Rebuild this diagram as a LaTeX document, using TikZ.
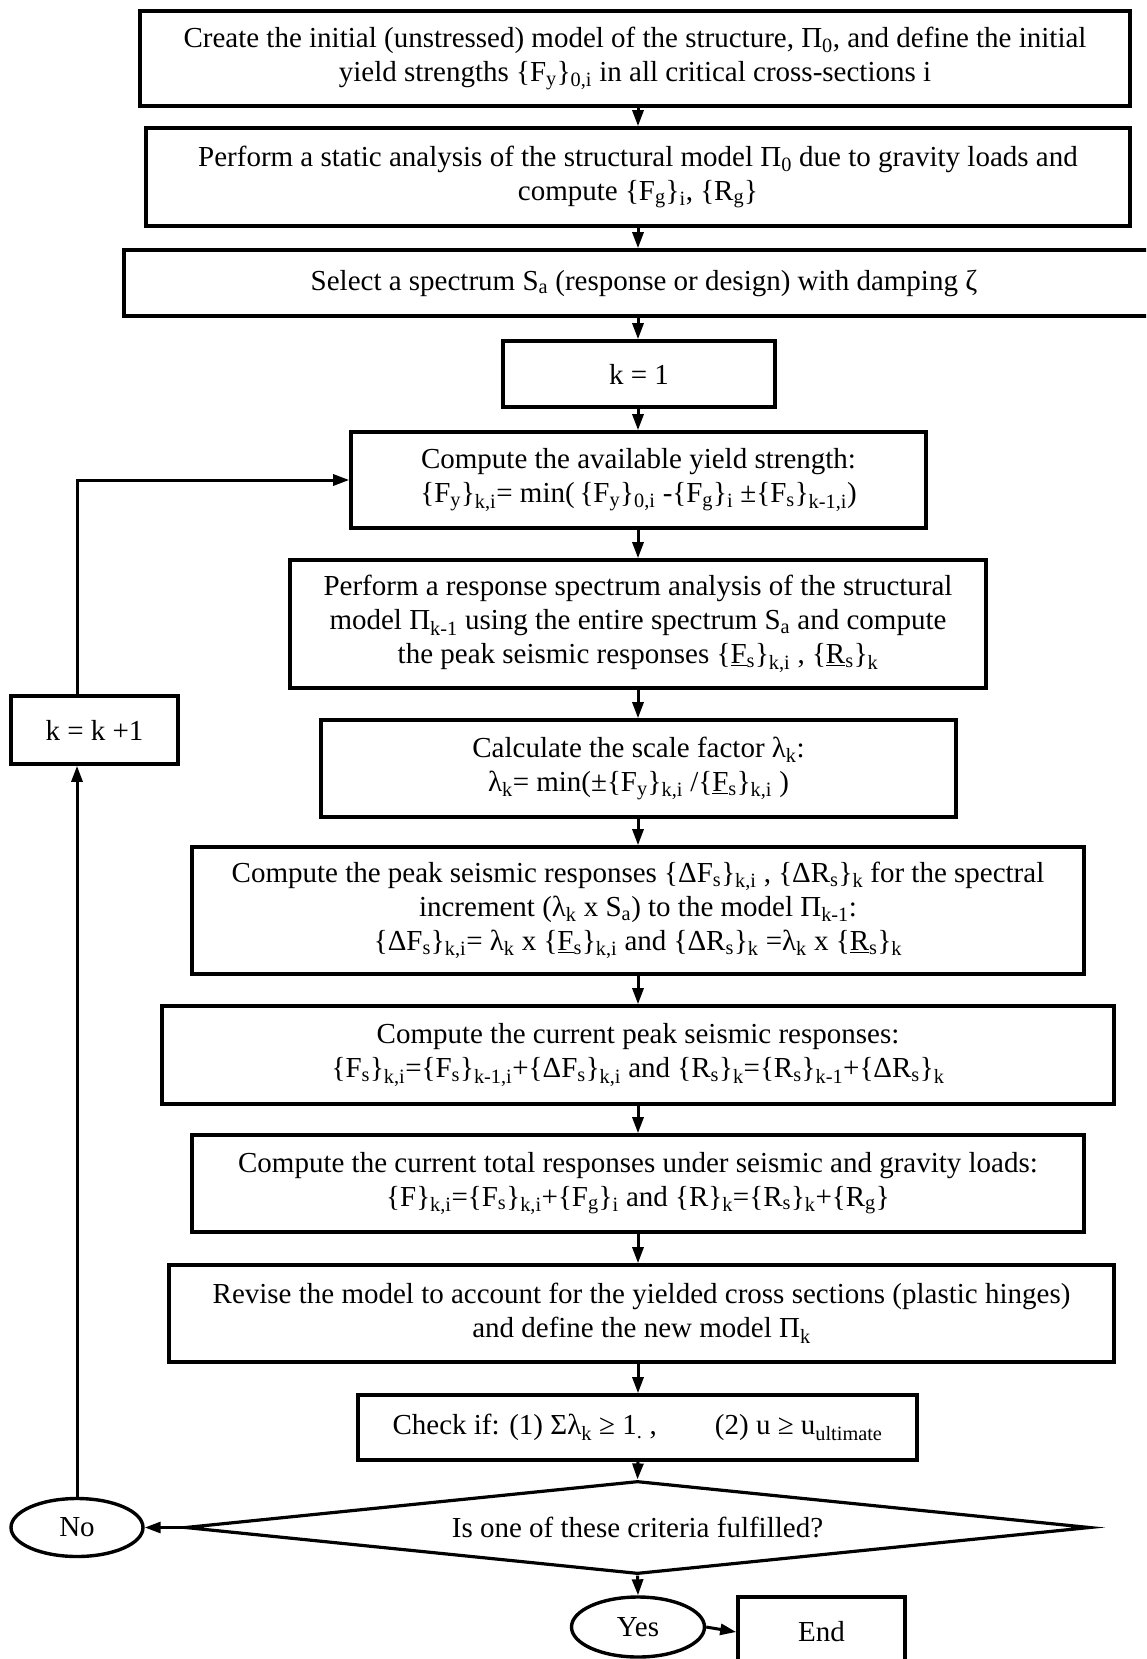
\documentclass[tikz,border=0pt]{standalone}
\usepackage{fontspec}
\setmainfont{Liberation Serif}
\usetikzlibrary{arrows.meta,calc,positioning,shapes.geometric}
\newcommand{\lo}[1]{\textsubscript{#1}}
\tikzset{
  txt/.style={font=\fontsize{29}{34}\selectfont},
  box/.style={txt,draw,line width=3.6pt,align=center,inner sep=0pt},
  term/.style={txt,draw,ellipse,line width=3.4pt,inner sep=0pt},
  decision/.style={draw,diamond,line width=3.2pt,inner sep=0pt},
  arr/.style={line width=3pt,-{Triangle[length=16pt,width=11pt]}}
}
\begin{document}
\begin{tikzpicture}[x=1pt,y=-1pt]
  \useasboundingbox (0,0) rectangle (1146,1659);
  \clip (0,0) rectangle (1146,1659);
  \coordinate (ax) at (638,0);
  \node[box,minimum width=990,minimum height=95] (init) at (635,58.5)
    {Create the initial (unstressed) model of the structure, Π\lo{0}, and define the initial\\
     yield strengths \{F\lo{y}\}\lo{0,i} in all critical cross-sections i};
  \node[box,minimum width=984,minimum height=98] (static) at (638,177)
    {Perform a static analysis of the structural model Π\lo{0} due to gravity loads and\\
     compute \{F\lo{g}\}\lo{i}, \{R\lo{g}\}};
  \node[box,minimum width=1040,minimum height=66] (spec) at (644,283)
    {Select a spectrum S\lo{a} (response or design) with damping ζ};
  \node[box,minimum width=272,minimum height=66] (k1) at (639,374) {k = 1};
  \node[box,minimum width=575,minimum height=96] (avail) at (638.5,480)
    {Compute the available yield strength:\\
     \{F\lo{y}\}\lo{k,i}= min(\,\{F\lo{y}\}\lo{0,i} -\{F\lo{g}\}\lo{i} ±\{F\lo{s}\}\lo{k-1,i})};
  \node[box,minimum width=696,minimum height=128] (rsa) at (638,624)
    {Perform a response spectrum analysis of the structural\\
     model Π\lo{k-1} using the entire spectrum S\lo{a} and compute\\
     the peak seismic responses \{\underline{F}\lo{s}\}\lo{k,i} , \{\underline{R}\lo{s}\}\lo{k}};
  \node[box,minimum width=635,minimum height=97] (scale) at (638.5,768.5)
    {Calculate the scale factor λ\lo{k}:\\
     λ\lo{k}= min(±\{F\lo{y}\}\lo{k,i} /\{\underline{F}\lo{s}\}\lo{k,i} )};
  \node[box,minimum width=892,minimum height=127] (incr) at (638,910.5)
    {Compute the peak seismic responses \{ΔF\lo{s}\}\lo{k,i} , \{ΔR\lo{s}\}\lo{k} for the spectral\\
     increment (λ\lo{k} x S\lo{a}) to the model Π\lo{k-1}:\\
     \{ΔF\lo{s}\}\lo{k,i}= λ\lo{k} x \{\underline{F}\lo{s}\}\lo{k,i} and \{ΔR\lo{s}\}\lo{k} =λ\lo{k} x \{\underline{R}\lo{s}\}\lo{k}};
  \node[box,minimum width=952,minimum height=98] (curr) at (638,1055)
    {Compute the current peak seismic responses:\\
     \{F\lo{s}\}\lo{k,i}=\{F\lo{s}\}\lo{k-1,i}+\{ΔF\lo{s}\}\lo{k,i} and \{R\lo{s}\}\lo{k}=\{R\lo{s}\}\lo{k-1}+\{ΔR\lo{s}\}\lo{k}};
  \node[box,minimum width=892,minimum height=97] (total) at (638,1183.5)
    {Compute the current total responses under seismic and gravity loads:\\
     \{F\}\lo{k,i}=\{F\lo{s}\}\lo{k,i}+\{F\lo{g}\}\lo{i} and \{R\}\lo{k}=\{R\lo{s}\}\lo{k}+\{R\lo{g}\}};
  \node[box,minimum width=945,minimum height=97] (revise) at (641.5,1313.5)
    {Revise the model to account for the yielded cross sections (plastic hinges)\\
     and define the new model Π\lo{k}};
  \node[box,minimum width=559,minimum height=65] (check) at (637.5,1427.5)
    {Check if: (1) Σλ\lo{k} ≥ 1\lo{.} ,\hspace{58pt}(2) u ≥ u\lo{ultimate}};
  \node[decision,minimum width=905,minimum height=93] (crit) at (637.5,1527.5) {};
  \node[txt] (critt) at (crit) {Is one of these criteria fulfilled?};
  \node[term,minimum width=132,minimum height=58] (no) at (77,1527.5) {No};
  \node[term,minimum width=133,minimum height=60] (yes) at (638,1627) {Yes};
  \node[box,minimum width=167,minimum height=70] (end) at (821.5,1632) {End};
  \node[box,minimum width=167,minimum height=68] (kk) at (94.5,730) {k = k +1};
  \draw[arr] (init.south -| ax) -- (static.north -| ax);
  \draw[arr] (static.south -| ax) -- (spec.north -| ax);
  \draw[arr] (spec.south -| ax) -- (k1.north -| ax);
  \draw[arr] (k1.south -| ax) -- (avail.north -| ax);
  \draw[arr] (avail.south -| ax) -- (rsa.north -| ax);
  \draw[arr] (rsa.south -| ax) -- (scale.north -| ax);
  \draw[arr] (scale.south -| ax) -- (incr.north -| ax);
  \draw[arr] (incr.south -| ax) -- (curr.north -| ax);
  \draw[arr] (curr.south -| ax) -- (total.north -| ax);
  \draw[arr] (total.south -| ax) -- (revise.north -| ax);
  \draw[arr] (revise.south -| ax) -- (check.north -| ax);
  \draw[arr] (check.south -| ax) -- (crit.north);
  \draw[arr] (crit.south) -- (yes.north);
  \draw[arr] (yes.east) -- (end.west);
  \draw[arr] (crit.west) -- (no.east);
  \draw[arr] (no.north) -- (kk.south -| no);
  \draw[arr] (kk.north -| no) |- (avail.west);
\end{tikzpicture}
\end{document}
